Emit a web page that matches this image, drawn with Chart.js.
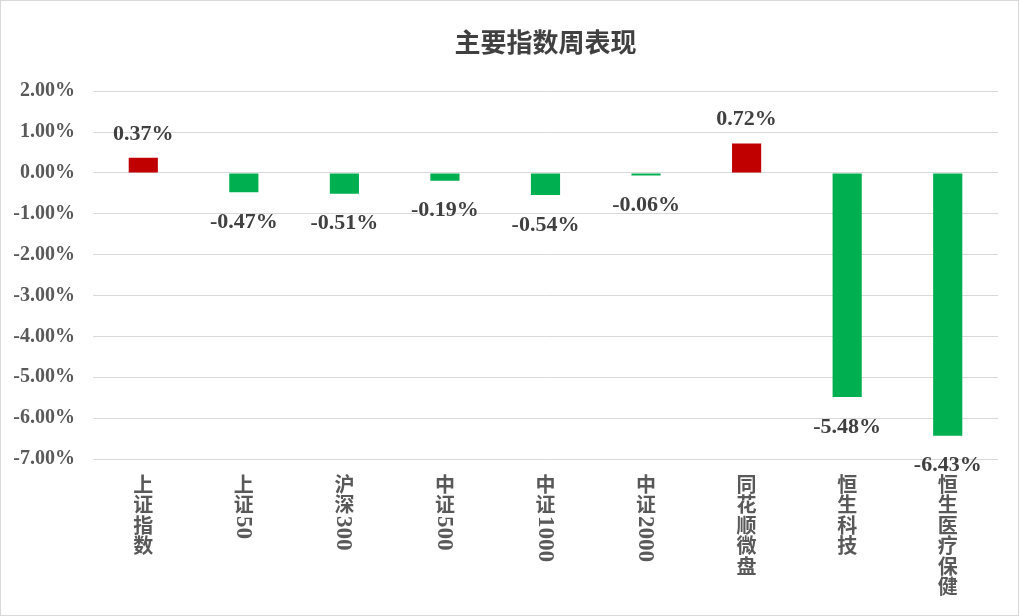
<!DOCTYPE html>
<html>
<head>
<meta charset="utf-8">
<script src="https://cdn.jsdelivr.net/npm/chart.js@4.4.0/dist/chart.umd.min.js"></script>
<style>
  html, body { margin: 0; padding: 0; background: #fff; }
  #wrap { position: relative; width: 1019px; height: 616px; }
  #frame { position: absolute; left: 0; top: 0; width: 1019px; height: 616px; box-sizing: border-box; border: 1px solid #d9d9d9; pointer-events: none; }
</style>
</head>
<body>
<div id="wrap">
  <canvas id="weeklyChart" width="1019" height="616"></canvas>
  <div id="frame"></div>
</div>
<script>
// data
const categories = ['上证指数', '上证50', '沪深300', '中证500', '中证1000', '中证2000', '同花顺微盘', '恒生科技', '恒生医疗保健'];
const weeklyChange = [0.37, -0.47, -0.51, -0.19, -0.54, -0.06, 0.72, -5.48, -6.43];
const yTicks = [2, 1, 0, -1, -2, -3, -4, -5, -6, -7];

const colors = {
    up: '#c00000',
    down: '#00b050',
    grid: '#d9d9d9',
    tick: '#595959',
    label: '#404040'
};

const serif = "'Liberation Serif', 'Times New Roman', serif";
const cjk = "'Noto Sans CJK SC', sans-serif";

// value labels above / below each bar
const valueLabels = {
    id: 'valueLabels',
    afterDatasetsDraw(chart) {
        const ctx = chart.ctx;
        const meta = chart.getDatasetMeta(0);
        ctx.save();
        ctx.font = 'bold 22px ' + serif;
        ctx.fillStyle = colors.label;
        ctx.textAlign = 'center';
        ctx.textBaseline = 'middle';
        meta.data.forEach((bar, i) => {
            const v = weeklyChange[i];
            const y = v >= 0 ? bar.y - 24 : bar.y + 30;
            ctx.fillText(v.toFixed(2) + '%', bar.x, y);
        });
        ctx.restore();
    }
};

// vertical category labels: CJK upright, digits turned sideways
const verticalLabels = {
    id: 'verticalLabels',
    afterDraw(chart) {
        const ctx = chart.ctx;
        const xScale = chart.scales.x;
        ctx.save();
        ctx.fillStyle = colors.tick;
        categories.forEach((name, i) => {
            const cx = xScale.getPixelForValue(i);
            let y = 477;
            const parts = name.match(/[0-9]+|[^0-9]/g);
            parts.forEach(p => {
                if (/^[0-9]+$/.test(p)) {
                    ctx.save();
                    ctx.font = 'bold 23px ' + serif;
                    ctx.translate(cx, y - 2);
                    ctx.rotate(Math.PI / 2);
                    ctx.textAlign = 'left';
                    ctx.textBaseline = 'middle';
                    ctx.fillText(p, 0, 1);
                    y += ctx.measureText(p).width;
                    ctx.restore();
                } else {
                    ctx.font = 'bold 20px ' + cjk;
                    ctx.textAlign = 'center';
                    ctx.textBaseline = 'top';
                    ctx.fillText(p, cx, y - 3);
                    y += 20.5;
                }
            });
        });
        ctx.restore();
    }
};

const ctx = document.getElementById('weeklyChart').getContext('2d');

new Chart(ctx, {
    type: 'bar',
    data: {
        labels: categories,
        datasets: [{
            data: weeklyChange,
            backgroundColor: weeklyChange.map(v => v >= 0 ? colors.up : colors.down),
            borderWidth: 0,
            barPercentage: 0.29,
            categoryPercentage: 1
        }]
    },
    options: {
        responsive: false,
        animation: false,
        devicePixelRatio: 1,
        layout: { padding: { left: 0, right: 21, top: 0, bottom: 0 } },
        plugins: {
            legend: { display: false },
            tooltip: { enabled: false },
            title: {
                display: true,
                text: '主要指数周表现',
                color: colors.label,
                font: { family: cjk, size: 26, weight: 'bold', lineHeight: 1.2 },
                padding: { top: 27, bottom: 33 },
                fullSize: false
            }
        },
        scales: {
            x: {
                grid: { display: false, drawTicks: false },
                border: { display: false },
                ticks: { display: false },
                afterFit: scale => { scale.height = 157; }
            },
            y: {
                min: -7,
                max: 2,
                afterBuildTicks: scale => { scale.ticks = yTicks.map(v => ({ value: v })); },
                afterFit: scale => { scale.width = 93; },
                grid: { color: colors.grid, lineWidth: 1, drawTicks: false },
                border: { display: false },
                ticks: {
                    padding: 18,
                    color: colors.tick,
                    font: { family: serif, size: 20, weight: 'bold' },
                    callback: v => v.toFixed(2) + '%'
                }
            }
        }
    },
    plugins: [valueLabels, verticalLabels]
});
</script>
</body>
</html>
